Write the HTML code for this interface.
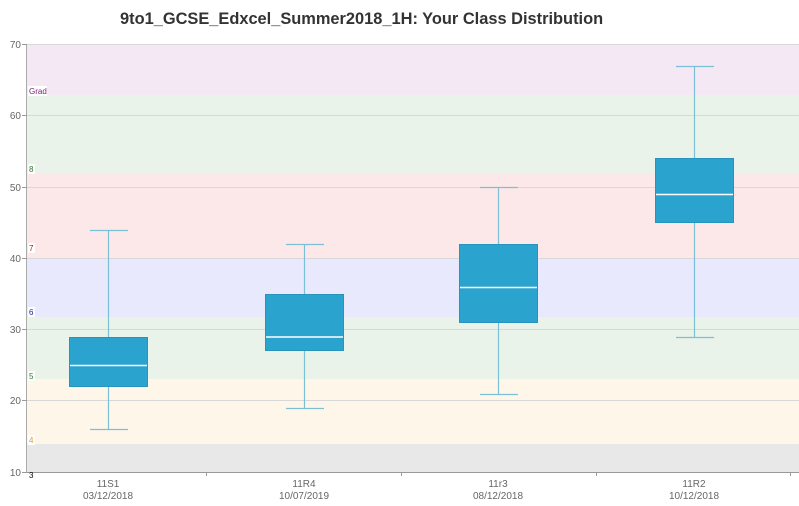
<!DOCTYPE html>
<html><head><meta charset="utf-8"><style>
body{margin:0;background:#fff;}
svg{display:block;font-family:"Liberation Sans",sans-serif;}
</style></head><body>
<svg width="799" height="506" viewBox="0 0 799 506">
<rect width="799" height="506" fill="#fff"/>
<text x="120" y="24" font-size="16.4" font-weight="bold" fill="#333">9to1_GCSE_Edxcel_Summer2018_1H: Your Class Distribution</text>
<rect x="27" y="44" width="772" height="51" fill="#f4e8f4"/>
<rect x="27" y="95" width="772" height="78" fill="#e9f3ea"/>
<rect x="27" y="173" width="772" height="85" fill="#fde8e9"/>
<rect x="27" y="258" width="772" height="59" fill="#e8e9fd"/>
<rect x="27" y="317" width="772" height="62" fill="#e9f3ea"/>
<rect x="27" y="379" width="772" height="65" fill="#fef6e8"/>
<rect x="27" y="444" width="772" height="28" fill="#e8e8e8"/>
<g stroke="#d8d8d8" stroke-width="1">
<line x1="27" y1="44.5" x2="799" y2="44.5"/>
<line x1="27" y1="115.5" x2="799" y2="115.5"/>
<line x1="27" y1="187.5" x2="799" y2="187.5"/>
<line x1="27" y1="258.5" x2="799" y2="258.5"/>
<line x1="27" y1="329.5" x2="799" y2="329.5"/>
<line x1="27" y1="400.5" x2="799" y2="400.5"/>
</g>
<line x1="26.5" y1="44" x2="26.5" y2="472" stroke="#aaa"/>
<line x1="26" y1="472.5" x2="799" y2="472.5" stroke="#999"/>
<g stroke="#999">
<line x1="22" y1="44.5" x2="27" y2="44.5"/><line x1="22" y1="115.5" x2="27" y2="115.5"/>
<line x1="22" y1="187.5" x2="27" y2="187.5"/><line x1="22" y1="258.5" x2="27" y2="258.5"/>
<line x1="22" y1="329.5" x2="27" y2="329.5"/><line x1="22" y1="400.5" x2="27" y2="400.5"/>
<line x1="22" y1="472.5" x2="27" y2="472.5"/>
<line x1="206.5" y1="472" x2="206.5" y2="476"/><line x1="401.5" y1="472" x2="401.5" y2="476"/>
<line x1="596.5" y1="472" x2="596.5" y2="476"/><line x1="790.5" y1="472" x2="790.5" y2="476"/>
</g>
<g font-size="10" fill="#666" text-anchor="end">
<text x="21" y="48">70</text><text x="21" y="119">60</text><text x="21" y="191">50</text>
<text x="21" y="262">40</text><text x="21" y="333">30</text><text x="21" y="404">20</text><text x="21" y="476">10</text>
</g>
<g font-size="8">
<rect x="28" y="86" width="19" height="10" fill="#fff"/><text x="29" y="94" fill="#7a1a7a">Grad</text>
<rect x="28" y="164" width="7" height="10" fill="#fff"/><text x="29" y="172" fill="#2a7a2a">8</text>
<rect x="28" y="243" width="7" height="10" fill="#fff"/><text x="29" y="251" fill="#a02020">7</text>
<rect x="28" y="307" width="7" height="10" fill="#fff"/><text x="29" y="315" fill="#2020a0">6</text>
<rect x="28" y="371" width="7" height="10" fill="#fff"/><text x="29" y="379" fill="#2a7a2a">5</text>
<rect x="28" y="435" width="7" height="10" fill="#fff"/><text x="29" y="443" fill="#e0a020">4</text>
<text x="29" y="478" fill="#000">3</text>
</g>
<g stroke="#7cc0d8" stroke-width="1.2">
<line x1="108.5" y1="230" x2="108.5" y2="429"/><line x1="90" y1="230.5" x2="128" y2="230.5"/><line x1="90" y1="429.5" x2="128" y2="429.5"/>
<line x1="304.5" y1="244" x2="304.5" y2="408"/><line x1="286" y1="244.5" x2="324" y2="244.5"/><line x1="286" y1="408.5" x2="324" y2="408.5"/>
<line x1="498.5" y1="187" x2="498.5" y2="394"/><line x1="480" y1="187.5" x2="518" y2="187.5"/><line x1="480" y1="394.5" x2="518" y2="394.5"/>
<line x1="694.5" y1="66" x2="694.5" y2="337"/><line x1="676" y1="66.5" x2="714" y2="66.5"/><line x1="676" y1="337.5" x2="714" y2="337.5"/>
</g>
<g fill="#2ba3cf" stroke="#2694bd" stroke-width="1">
<rect x="69.5" y="337.5" width="78" height="49"/>
<rect x="265.5" y="294.5" width="78" height="56"/>
<rect x="459.5" y="244.5" width="78" height="78"/>
<rect x="655.5" y="158.5" width="78" height="64"/>
</g>
<g stroke="#fff" stroke-width="1.5">
<line x1="70" y1="365.5" x2="147" y2="365.5"/>
<line x1="266" y1="337" x2="343" y2="337"/>
<line x1="460" y1="287.5" x2="537" y2="287.5"/>
<line x1="656" y1="194.5" x2="733" y2="194.5"/>
</g>
<g font-size="10" fill="#666" text-anchor="middle">
<text x="108" y="487">11S1</text><text x="108" y="499">03/12/2018</text>
<text x="304" y="487">11R4</text><text x="304" y="499">10/07/2019</text>
<text x="498" y="487">11r3</text><text x="498" y="499">08/12/2018</text>
<text x="694" y="487">11R2</text><text x="694" y="499">10/12/2018</text>
</g>
</svg>
</body></html>
